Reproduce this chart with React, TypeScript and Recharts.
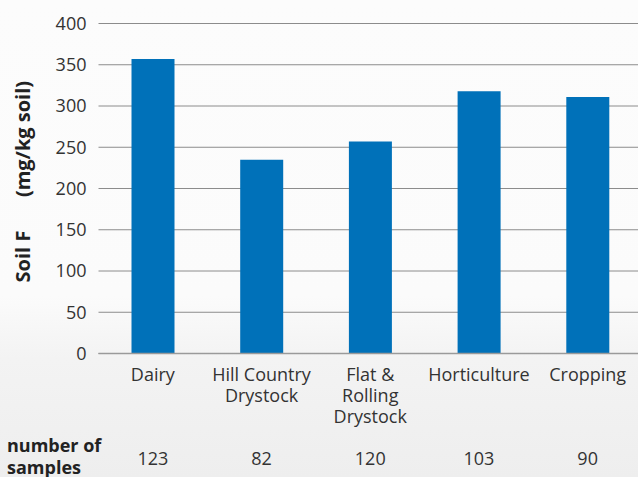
import React from 'react';
import { BarChart, Bar, XAxis, YAxis, CartesianGrid } from 'recharts';

// Land-use categories (line breaks mark wrapped tick labels)
const categories = ['Dairy', 'Hill Country\nDrystock', 'Flat &\nRolling\nDrystock', 'Horticulture', 'Cropping'];
// Mean soil fluorine, mg/kg soil
const soilF = [357, 235, 257, 318, 311];
// Number of samples per category
const sampleCounts = [123, 82, 120, 103, 90];
// Y axis ticks
const yTicks = [0, 50, 100, 150, 200, 250, 300, 350, 400];

const data = categories.map((category, i) => ({
  category,
  soilF: soilF[i],
  samples: sampleCounts[i],
}));

const FONT = '"Open Sans", "Noto Sans", sans-serif';
const TEXT = '#333333';
const BAR = '#0071b9';

const CategoryTick = (props: any) => {
  const { x, y, payload, index } = props;
  const lines = String(payload.value).split('\n');
  const idx = typeof index === 'number' ? index : categories.indexOf(payload.value);
  return (
    <g>
      <text x={x} y={y + 27} textAnchor="middle" fontSize={18} fontFamily={FONT} fill={TEXT}>
        {lines.map((line, i) => (
          <tspan key={i} x={x} dy={i === 0 ? 0 : 21}>
            {line}
          </tspan>
        ))}
      </text>
      <text x={x} y={y + 111.5} textAnchor="middle" fontSize={18} fontFamily={FONT} fill={TEXT}>
        {sampleCounts[idx]}
      </text>
    </g>
  );
};

const ValueTick = (props: any) => {
  const { x, y, payload } = props;
  return (
    <text x={x - 12} y={y} dy="0.355em" textAnchor="end" fontSize={18} fontFamily={FONT} fill={TEXT}>
      {payload.value}
    </text>
  );
};

const YTitle = (props: any) => {
  const vb = props.viewBox || { x: 0, y: 0, height: 0 };
  const bx = 30;
  const top = vb.y;
  return (
    <g fontSize={20} fontWeight={700} fontFamily={FONT} fill="#222">
      <text x={bx} y={top + 115.5} textAnchor="middle" transform={`rotate(-90 ${bx} ${top + 115.5})`}>
        (mg/kg soil)
      </text>
      <text x={bx} y={top + 233} textAnchor="middle" transform={`rotate(-90 ${bx} ${top + 233})`}>
        Soil F
      </text>
    </g>
  );
};

const SamplesTitle = (props: any) => {
  const vb = props.viewBox || { y: 0 };
  const y0 = vb.y;
  return (
    <text x={7} y={y0 + 98.5} fontSize={18} fontWeight={700} fontFamily={FONT} fill="#222">
      <tspan x={7}>number of</tspan>
      <tspan x={7} dy={22}>samples</tspan>
    </text>
  );
};

export default function App() {
  return (
    <div
      style={{
        position: 'fixed',
        top: 0,
        left: 0,
        width: 638,
        height: 477,
        overflow: 'hidden',
        background: 'linear-gradient(180deg, #fcfcfc 0%, #fbfbfb 62%, #f3f3f3 75%, #eeeeee 100%)',
      }}
    >
      <BarChart
        width={646}
        height={477}
        data={data}
        margin={{ top: 23.5, right: 4, bottom: 23.5, left: 0 }}
      >
        <CartesianGrid vertical={false} stroke="#8c8c8c" strokeWidth={1} />
        <XAxis
          dataKey="category"
          height={100}
          interval={0}
          tickLine={false}
          tickSize={0}
          tickMargin={0}
          axisLine={{ stroke: '#9a9a9a', strokeWidth: 1.5 }}
          tick={<CategoryTick />}
          label={{ content: <SamplesTitle /> }}
        />
        <YAxis
          width={98.5}
          domain={[0, 400]}
          ticks={yTicks}
          interval={0}
          axisLine={false}
          tickLine={false}
          tickSize={0}
          tickMargin={0}
          tick={<ValueTick />}
          label={{ content: <YTitle /> }}
        />
        <Bar dataKey="soilF" fill={BAR} barSize={43} isAnimationActive={false} />
      </BarChart>
    </div>
  );
}
